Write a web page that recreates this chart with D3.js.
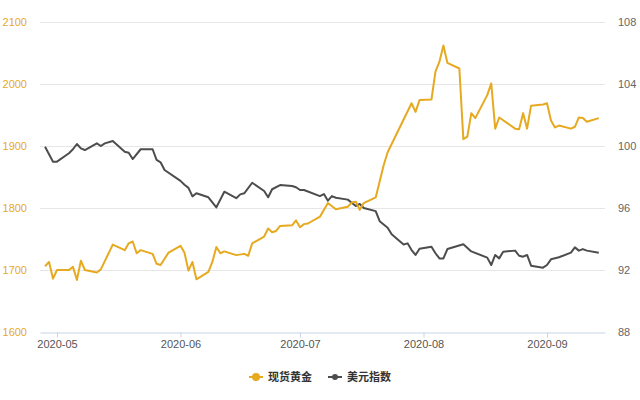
<!DOCTYPE html>
<html><head><meta charset="utf-8">
<script src="https://cdn.jsdelivr.net/npm/d3@7/dist/d3.min.js"></script>
<style>
html,body{margin:0;padding:0;background:#fff;}
svg{display:block;font-family:"Open Sans","Noto Sans CJK SC",sans-serif;}
</style></head>
<body><svg id="c" width="640" height="400"></svg>
<script>
const goldDates = ["2020-04-28","2020-04-29","2020-04-30","2020-05-01","2020-05-04","2020-05-05","2020-05-06","2020-05-07","2020-05-08","2020-05-11","2020-05-12","2020-05-15","2020-05-18","2020-05-19","2020-05-20","2020-05-21","2020-05-22","2020-05-25","2020-05-26","2020-05-27","2020-05-29","2020-06-01","2020-06-02","2020-06-03","2020-06-04","2020-06-05","2020-06-08","2020-06-09","2020-06-10","2020-06-11","2020-06-12","2020-06-15","2020-06-17","2020-06-18","2020-06-19","2020-06-22","2020-06-23","2020-06-24","2020-06-25","2020-06-26","2020-06-29","2020-06-30","2020-07-01","2020-07-02","2020-07-03","2020-07-06","2020-07-08","2020-07-10","2020-07-13","2020-07-14","2020-07-15","2020-07-16","2020-07-17","2020-07-20","2020-07-22","2020-07-23","2020-07-29","2020-07-30","2020-07-31","2020-08-03","2020-08-04","2020-08-05","2020-08-06","2020-08-07","2020-08-10","2020-08-11","2020-08-12","2020-08-13","2020-08-14","2020-08-17","2020-08-18","2020-08-19","2020-08-20","2020-08-24","2020-08-25","2020-08-26","2020-08-27","2020-08-28","2020-08-31","2020-09-01","2020-09-02","2020-09-03","2020-09-04","2020-09-07","2020-09-08","2020-09-09","2020-09-10","2020-09-11","2020-09-14"];
const goldValues = [1706,1713,1686,1700,1700,1705,1684,1715,1700,1696,1701,1741,1732,1743,1746,1727,1732,1726,1710,1708,1728,1739,1728,1699,1713,1685,1697,1713,1737,1727,1730,1724,1726,1723,1743,1754,1767,1761,1763,1771,1772,1780,1769,1774,1775,1786,1808,1798,1802,1809,1810,1797,1808,1817,1869,1890,1969,1955,1974,1975,2020,2036,2062,2034,2025,1911,1915,1953,1945,1982,2001,1928,1946,1928,1927,1953,1928,1965,1967,1969,1941,1930,1933,1928,1931,1946,1945,1939,1945];

const usdDates = ["2020-04-28","2020-04-30","2020-05-01","2020-05-04","2020-05-05","2020-05-06","2020-05-07","2020-05-08","2020-05-11","2020-05-12","2020-05-13","2020-05-15","2020-05-18","2020-05-19","2020-05-20","2020-05-22","2020-05-25","2020-05-26","2020-05-27","2020-05-28","2020-06-01","2020-06-02","2020-06-03","2020-06-04","2020-06-05","2020-06-08","2020-06-10","2020-06-12","2020-06-15","2020-06-16","2020-06-17","2020-06-19","2020-06-22","2020-06-23","2020-06-24","2020-06-26","2020-06-29","2020-06-30","2020-07-01","2020-07-02","2020-07-06","2020-07-07","2020-07-08","2020-07-09","2020-07-10","2020-07-13","2020-07-15","2020-07-16","2020-07-17","2020-07-20","2020-07-21","2020-07-23","2020-07-24","2020-07-27","2020-07-28","2020-07-29","2020-07-30","2020-07-31","2020-08-03","2020-08-04","2020-08-05","2020-08-06","2020-08-07","2020-08-11","2020-08-13","2020-08-17","2020-08-18","2020-08-19","2020-08-20","2020-08-21","2020-08-24","2020-08-25","2020-08-26","2020-08-27","2020-08-28","2020-08-31","2020-09-01","2020-09-02","2020-09-04","2020-09-07","2020-09-08","2020-09-09","2020-09-10","2020-09-11","2020-09-14"];
const usdValues = [99.95,98.99,98.99,99.53,99.79,100.13,99.85,99.74,100.17,100.0,100.17,100.32,99.63,99.57,99.16,99.79,99.79,99.1,98.95,98.45,97.75,97.5,97.3,96.75,96.95,96.69,96.04,97.05,96.63,96.88,96.95,97.63,97.1,96.69,97.21,97.48,97.42,97.34,97.16,97.16,96.77,96.9,96.47,96.77,96.66,96.54,96.13,96.26,96.0,95.8,95.15,94.73,94.3,93.65,93.72,93.29,92.97,93.37,93.5,93.08,92.75,92.75,93.35,93.66,93.2,92.8,92.32,92.97,92.75,93.18,93.25,92.92,92.86,92.97,92.28,92.15,92.32,92.69,92.82,93.12,93.46,93.25,93.35,93.25,93.12];

const leftTicks = [1600,1700,1800,1900,2000,2100];
const rightTicks = [88,92,96,100,104,108];
const monthTicks = ["2020-05-01","2020-06-01","2020-07-01","2020-08-01","2020-09-01"];
const seriesNames = ["现货黄金","美元指数"];

const GOLD = "#e6a91f", USD = "#4d4d4d";
const L = 40, R = 605, T = 22, B = 332;
const parse = d3.timeParse("%Y-%m-%d");
const svg = d3.select("#c");

const x0 = d3.scaleTime().domain([parse("2020-05-01"), parse("2020-09-01")]).range([57, 547]);
const x = d3.scaleTime().domain([x0.invert(L), x0.invert(R)]).range([L, R]);
const yL = d3.scaleLinear().domain([1600, 2100]).range([B, T]);
const yR = d3.scaleLinear().domain([88, 108]).range([B, T]);

// grid
svg.append("g").selectAll("line").data(leftTicks.slice(1)).join("line")
  .attr("x1", L).attr("x2", R)
  .attr("y1", d => Math.round(yL(d)) + 0.5).attr("y2", d => Math.round(yL(d)) + 0.5)
  .attr("stroke", "#e6e6e6").attr("stroke-width", 1);

// left axis labels
const ga = d3.axisLeft(yL).tickValues(leftTicks).tickSize(0).tickPadding(0).tickFormat(d3.format("d"));
const gl = svg.append("g").attr("transform", `translate(27,0)`).call(ga);
gl.select(".domain").remove();
gl.selectAll("text").attr("fill", GOLD).attr("font-size", 11);

const gaR = d3.axisRight(yR).tickValues(rightTicks).tickSize(0).tickPadding(0);
const gr = svg.append("g").attr("transform", `translate(618,0)`).call(gaR);
gr.select(".domain").remove();
gr.selectAll("text").attr("fill", "#666").attr("font-size", 11);

// bottom axis
const gb = svg.append("g").attr("transform", `translate(0,${B + 0.5})`)
  .call(d3.axisBottom(x).tickValues(monthTicks.map(parse)).tickSize(5).tickSizeOuter(0).tickPadding(3).tickFormat(d3.timeFormat("%Y-%m")));
gb.select(".domain").attr("stroke", "#c8d3e6");
gb.selectAll(".tick line").attr("stroke", "#c8d3e6");
gb.selectAll("text").attr("fill", "#555").attr("font-size", 11);

// lines
const goldData = goldDates.map((d, i) => ({ d: parse(d), v: goldValues[i] }));
const usdData = usdDates.map((d, i) => ({ d: parse(d), v: usdValues[i] }));
svg.append("path").datum(usdData)
  .attr("fill", "none").attr("stroke", USD).attr("stroke-width", 2).attr("stroke-linejoin", "round")
  .attr("d", d3.line().x(p => x(p.d)).y(p => yR(p.v)));
svg.append("path").datum(goldData)
  .attr("fill", "none").attr("stroke", GOLD).attr("stroke-width", 2).attr("stroke-linejoin", "round")
  .attr("d", d3.line().x(p => x(p.d)).y(p => yL(p.v)));

// legend
const legend = [{ name: seriesNames[0], c: GOLD, x: 249, r: 4 }, { name: seriesNames[1], c: USD, x: 328, r: 3 }];
const lg = svg.append("g").selectAll("g").data(legend).join("g").attr("transform", d => `translate(${d.x},377)`);
lg.append("line").attr("x1", 0).attr("x2", 14).attr("stroke", d => d.c).attr("stroke-width", 2);
lg.append("circle").attr("cx", 7).attr("r", d => d.r).attr("fill", d => d.c);
lg.append("text").attr("x", 19).attr("dy", "0.35em").attr("font-size", 11).attr("font-weight", 600).attr("fill", "#333")
  .attr("font-family", "'Noto Sans CJK SC',sans-serif").text(d => d.name);
</script></body></html>
